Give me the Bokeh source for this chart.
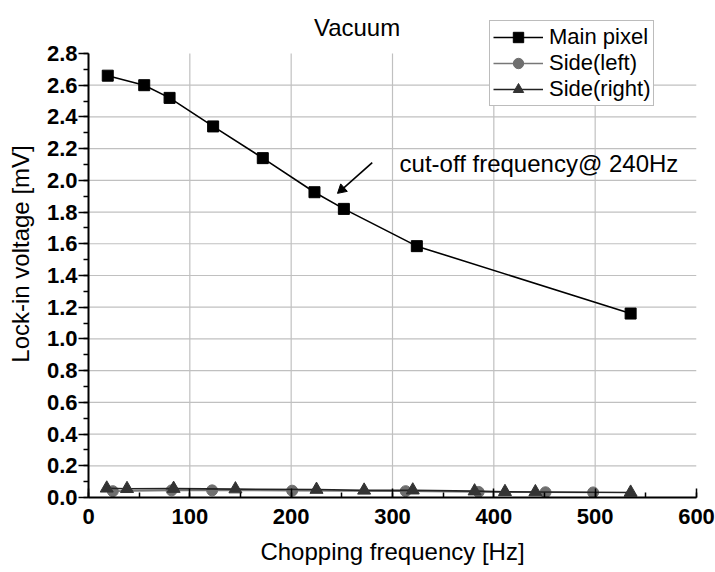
import math
from bokeh.plotting import figure
from bokeh.models import (Range1d, SingleIntervalTicker, NumeralTickFormatter,
                          Legend, LegendItem, Label)
from bokeh.embed import file_html
from bokeh.resources import INLINE

# ---- data ----
main_x = [19, 55, 80, 123, 172, 223, 252, 324, 535]
main_y = [2.66, 2.60, 2.52, 2.34, 2.14, 1.925, 1.82, 1.585, 1.16]

left_x = [24, 82, 122, 201, 313, 385, 451, 498]
left_y = [0.040, 0.045, 0.045, 0.043, 0.040, 0.035, 0.033, 0.032]

right_x = [18, 38, 84, 145, 225, 272, 320, 381, 411, 441, 535]
right_y = [0.058, 0.055, 0.056, 0.053, 0.050, 0.045, 0.046, 0.040, 0.036, 0.035, 0.032]

series_names = ["Main pixel", "Side(left)", "Side(right)"]
title_text = "Vacuum"
x_label = "Chopping frequency [Hz]"
y_label = "Lock-in voltage [mV]"
note_text = "cut-off frequency@ 240Hz"
arrow_from = (280, 2.112)
arrow_to = (250, 1.942)

# grid positions (inner major ticks)
x_grid = [100, 200, 300, 400, 500]
y_grid = [0.2, 0.4, 0.6, 0.8, 1.0, 1.2, 1.4, 1.6, 1.8, 2.0, 2.2, 2.4, 2.6]

X_MAX = 600
Y_MAX = 2.8
Y_TOP = 3.071   # headroom above the axis for title and legend

FONT = "Liberation Sans"

p = figure(width=715, height=572, output_backend="svg", toolbar_location=None,
           x_range=Range1d(0, X_MAX), y_range=Range1d(0, Y_TOP),
           min_border_left=88, min_border_right=19, min_border_top=10, min_border_bottom=75)
p.outline_line_color = None
p.xgrid.visible = False
p.ygrid.visible = False

# axes
xa = p.xaxis[0]
ya = p.yaxis[0]
xa.ticker = SingleIntervalTicker(interval=100, num_minor_ticks=2)
ya.ticker = SingleIntervalTicker(interval=0.2, num_minor_ticks=2)
ya.formatter = NumeralTickFormatter(format="0.0")
ya.bounds = (0, Y_MAX + 1e-6)
xa.bounds = (0, X_MAX)
for ax in (xa, ya):
    ax.axis_line_width = 2
    ax.axis_line_color = "#000000"
    ax.major_tick_line_color = "#000000"
    ax.minor_tick_line_color = "#000000"
    ax.major_tick_line_width = 1.5
    ax.minor_tick_line_width = 1.5
    ax.major_label_text_font = FONT
    ax.major_label_text_font_style = "bold"
    ax.major_label_text_font_size = "22px"
    ax.major_label_text_color = "#000000"
    ax.axis_label_text_font = FONT
    ax.axis_label_text_font_style = "normal"
    ax.axis_label_text_font_size = "24px"
    ax.axis_label_text_color = "#000000"

xa.major_tick_in = 9
xa.major_tick_out = 0
xa.minor_tick_in = 5
xa.minor_tick_out = 0
xa.major_label_standoff = 11
xa.axis_label = x_label
xa.axis_label_standoff = 11

ya.major_tick_in = 0
ya.major_tick_out = 10
ya.minor_tick_in = 0
ya.minor_tick_out = 5
ya.major_label_standoff = 1
ya.axis_label = y_label
ya.axis_label_standoff = 10

# grid lines drawn as thin filled bars (1.2 px wide) that stop at the axis ends
p.rect(x=x_grid, y=[Y_MAX / 2] * len(x_grid), width=1.2, height=Y_MAX,
       width_units="screen", fill_color="#c0c0c0", line_color=None)
p.rect(x=[X_MAX / 2] * len(y_grid), y=y_grid, width=X_MAX, height=1.2,
       height_units="screen", fill_color="#c0c0c0", line_color=None)

# series
l_side_left = p.line(left_x, left_y, line_color="#777777", line_width=1.6)
s_side_left = p.scatter(left_x, left_y, marker="circle", size=11,
                        fill_color="#6f6f6f", line_color="#6f6f6f")
l_side_right = p.line(right_x, right_y, line_color="#222222", line_width=1.6)
s_side_right = p.scatter(right_x, right_y, marker="triangle", size=13,
                         fill_color="#333333", line_color="#333333")
l_main = p.line(main_x, main_y, line_color="black", line_width=1.6)
s_main = p.scatter(main_x, main_y, marker="square", size=11,
                   fill_color="black", line_color="black")

legend = Legend(items=[
    LegendItem(label=series_names[0], renderers=[l_main, s_main]),
    LegendItem(label=series_names[1], renderers=[l_side_left, s_side_left]),
    LegendItem(label=series_names[2], renderers=[l_side_right, s_side_right]),
], location=(401, 391))
legend.label_text_font = FONT
legend.label_text_font_size = "22px"
legend.label_text_color = "black"
legend.label_height = 26
legend.glyph_height = 26
legend.glyph_width = 50
legend.label_standoff = 6
legend.padding = 3
legend.spacing = 0
legend.margin = 0
legend.border_line_color = "#7a7a7a"
legend.border_line_width = 1.2
legend.background_fill_color = "white"
legend.background_fill_alpha = 1
p.add_layout(legend)

# title (drawn as a label so it sits where the reference has it)
p.add_layout(Label(x=265, y=2.965, text=title_text, text_font=FONT, text_font_size="24px",
                   text_align="center", text_baseline="middle", text_color="black"))

# annotation text and arrow (shaft as a segment, head as a rotated triangle marker)
p.add_layout(Label(x=307, y=2.105, text=note_text, text_font=FONT, text_font_size="24px",
                   text_align="left", text_baseline="middle", text_color="black"))
p.segment(x0=[arrow_from[0]], y0=[arrow_from[1]], x1=[arrow_to[0]], y1=[arrow_to[1]],
          line_color="black", line_width=1.6)
dx = (arrow_to[0] - arrow_from[0]) * 1.015
dy = (arrow_to[1] - arrow_from[1]) * 158.6
ang = math.atan2(dy, dx) - math.pi / 2
p.scatter(x=[arrow_to[0]], y=[arrow_to[1]], marker="triangle", size=10, angle=ang,
          fill_color="black", line_color="black")

open("out.html", "w").write(file_html(p, INLINE))
